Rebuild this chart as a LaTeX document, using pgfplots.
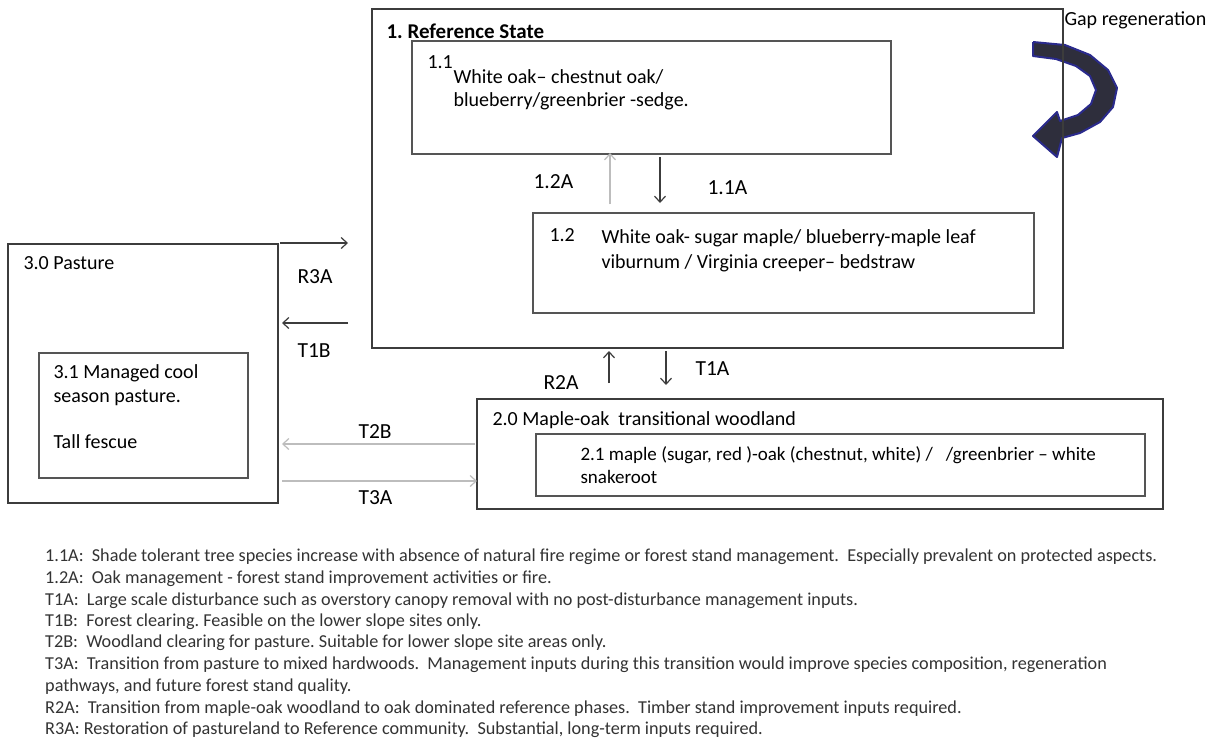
\documentclass[border=0pt]{standalone}
\usepackage{fontspec}
\setmainfont{Carlito}
\usepackage{pgfplots}
\pgfplotsset{compat=1.18}
\usetikzlibrary{arrows.meta}
\definecolor{boxc}{HTML}{3C3C3C}
\definecolor{inbox}{HTML}{555555}
\definecolor{txt}{HTML}{333333}
\definecolor{lite}{HTML}{BDBDBD}
\definecolor{navyfill}{HTML}{2E2E3C}
\definecolor{navyline}{HTML}{2A2A8C}
\frenchspacing

\begin{document}
\begin{tikzpicture}
\begin{axis}[
    width=1215pt, height=742pt, scale only axis,
    xmin=0, xmax=1215, ymin=0, ymax=742,
    y dir=reverse, axis lines=none, clip=false,
    every node/.style={text=txt, inner sep=0pt},
]
% page background
\addplot[draw=none, fill=white] coordinates {(0,0) (1215,0) (1215,742) (0,742)};

% gap regeneration curved arrow (under the state box line)
\addplot[navyline, fill=navyfill, line width=2pt, line join=round] coordinates {
  (1033,42) (1065,45) (1090,55) (1108,70) (1117,88) (1113,107) (1100,122)
  (1080,133) (1062,138) (1057,157) (1033,136) (1057,112) (1060,121)
  (1078,115) (1091,104) (1096,90) (1090,76) (1076,66) (1056,59) (1033,56) (1033,42)};

% state boxes
\addplot[boxc, line width=2.4pt, line cap=rect] coordinates {(372,9) (1063,9) (1063,348) (372,348) (372,9)};
\addplot[inbox, line width=1.6pt, line cap=rect] coordinates {(412,41) (891,41) (891,154) (412,154) (412,41)};
\addplot[inbox, line width=1.6pt, line cap=rect] coordinates {(533,213) (1034,213) (1034,313) (533,313) (533,213)};
\addplot[boxc, line width=2.4pt, line cap=rect] coordinates {(8,244) (278,244) (278,503) (8,503) (8,244)};
\addplot[inbox, line width=1.6pt, line cap=rect] coordinates {(39,353) (248,353) (248,478) (39,478) (39,353)};
\addplot[boxc, line width=2.4pt, line cap=rect] coordinates {(477,399) (1163,399) (1163,509) (477,509) (477,399)};
\addplot[inbox, line width=1.6pt, line cap=rect] coordinates {(536,434) (1145,434) (1145,496) (536,496) (536,434)};

% transition arrows
\addplot[lite, line width=1.2pt, -{Straight Barb[length=6pt,width=11pt]}] coordinates {(610,204) (610,153)};
\addplot[boxc, line width=1.2pt, -{Straight Barb[length=6pt,width=11pt]}] coordinates {(660,157) (660,203)};
\addplot[boxc, line width=1.2pt, -{Straight Barb[length=6pt,width=11pt]}] coordinates {(280,243) (348,243)};
\addplot[boxc, line width=1.2pt, -{Straight Barb[length=6pt,width=11pt]}] coordinates {(348,323) (282,323)};
\addplot[lite, line width=1.2pt, -{Straight Barb[length=6pt,width=11pt]}] coordinates {(475,444) (282,444)};
\addplot[lite, line width=1.2pt, -{Straight Barb[length=6pt,width=11pt]}] coordinates {(282,481) (477,481)};
\addplot[boxc, line width=1.2pt, -{Straight Barb[length=6pt,width=11pt]}] coordinates {(609,383) (609,351)};
\addplot[boxc, line width=1.2pt, -{Straight Barb[length=6pt,width=11pt]}] coordinates {(666,351) (666,385)};

% labels
\node[anchor=west, font=\fontsize{21}{24}\selectfont\bfseries] at (axis cs:383,31) {1. Reference State};
\node[anchor=west, font=\fontsize{20}{24}\selectfont] at (axis cs:1061,20) {Gap regeneration};
\node[anchor=west, font=\fontsize{20}{24}\selectfont] at (axis cs:424,62) {1.1};
\node[anchor=north west, align=left, font=\fontsize{20}{23}\selectfont] at (axis cs:450,66)
  {White oak– chestnut oak/\\blueberry/greenbrier -sedge.};
\node[anchor=west, font=\fontsize{20}{24}\selectfont] at (axis cs:546,235) {1.2};
\node[anchor=north west, align=left, font=\fontsize{20}{25}\selectfont] at (axis cs:598,226)
  {White oak- sugar maple/ blueberry-maple leaf\\viburnum / Virginia creeper– bedstraw};
\node[anchor=west, font=\fontsize{21.5}{24}\selectfont] at (axis cs:530,182) {1.2A};
\node[anchor=west, font=\fontsize{21.5}{24}\selectfont] at (axis cs:704,188) {1.1A};

\node[anchor=west, font=\fontsize{20}{24}\selectfont] at (axis cs:20,263) {3.0 Pasture};
\node[anchor=north west, align=left, font=\fontsize{20}{24}\selectfont] at (axis cs:50,361)
  {3.1 Managed cool\\season pasture.\\[22pt]Tall fescue};
\node[anchor=west, font=\fontsize{21.5}{24}\selectfont] at (axis cs:294,277) {R3A};
\node[anchor=west, font=\fontsize{21.5}{24}\selectfont] at (axis cs:294,351) {T1B};
\node[anchor=west, font=\fontsize{21.5}{24}\selectfont] at (axis cs:355,432) {T2B};
\node[anchor=west, font=\fontsize{21.5}{24}\selectfont] at (axis cs:355,498) {T3A};
\node[anchor=west, font=\fontsize{21.5}{24}\selectfont] at (axis cs:540,383) {R2A};
\node[anchor=west, font=\fontsize{21.5}{24}\selectfont] at (axis cs:692,369) {T1A};

\node[anchor=west, font=\fontsize{20}{24}\selectfont] at (axis cs:489,420) {2.0 Maple-oak\ \ transitional woodland};
\node[anchor=north west, align=left, font=\fontsize{19}{23}\selectfont] at (axis cs:577,443)
  {2.1 maple (sugar, red )-oak (chestnut, white) /\ \ \ /greenbrier – white\\snakeroot};

% notes
\begin{scope}[every node/.style={anchor=west, inner sep=0pt, text=txt, font=\fontsize{18.2}{21}\selectfont}]
\node at (axis cs:45,557) {1.1A:\ \ Shade tolerant tree species increase with absence of natural fire regime or forest stand management.\ \ Especially prevalent on protected aspects.};
\node at (axis cs:45,579) {1.2A:\ \ Oak management - forest stand improvement activities or fire.};
\node at (axis cs:45,601) {T1A:\ \ Large scale disturbance such as overstory canopy removal with no post-disturbance management inputs.};
\node at (axis cs:45,622) {T1B:\ \ Forest clearing. Feasible on the lower slope sites only.};
\node at (axis cs:45,643) {T2B:\ \ Woodland clearing for pasture. Suitable for lower slope site areas only.};
\node at (axis cs:45,665) {T3A:\ \ Transition from pasture to mixed hardwoods.\ \ Management inputs during this transition would improve species composition, regeneration};
\node at (axis cs:45,687) {pathways, and future forest stand quality.};
\node at (axis cs:45,709) {R2A:\ \ Transition from maple-oak woodland to oak dominated reference phases.\ \ Timber stand improvement inputs required.};
\node at (axis cs:45,730) {R3A: Restoration of pastureland to Reference community.\ \ Substantial, long-term inputs required.};
\end{scope}
\end{axis}
\end{tikzpicture}
\end{document}
